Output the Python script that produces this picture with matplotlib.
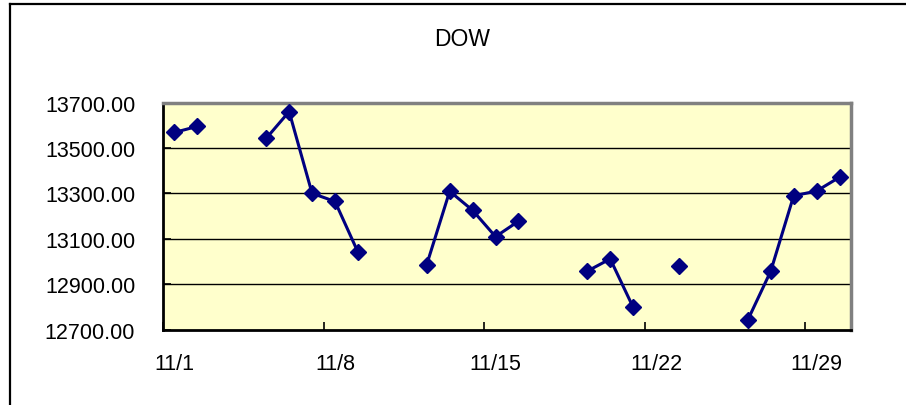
import numpy as np
import matplotlib
matplotlib.use("Agg")
import matplotlib.pyplot as plt
from matplotlib.lines import Line2D

plt.rcParams['font.family'] = ['Liberation Sans', 'DejaVu Sans']

# DOW closing values, November (NaN = no trading day)
days = np.arange(1, 31)
dow = [13568, 13595, np.nan, np.nan, 13542, 13660, 13300, 13264, 13041, np.nan,
       np.nan, 12986, 13309, 13225, 13109, 13177, np.nan, np.nan, 12957, 13011,
       12798, np.nan, 12981, np.nan, np.nan, 12742, 12957, 13289, 13310, 13371]
tick_days = [1, 8, 15, 22, 29]
tick_labels = ['11/1', '11/8', '11/15', '11/22', '11/29']
y_ticks = [12700, 12900, 13100, 13300, 13500, 13700]

fig = plt.figure(figsize=(9.06, 4.06), dpi=100)
ax = fig.add_axes([163 / 906, 1 - 330.5 / 406, 688 / 906, 227 / 406])
ax.set_facecolor('#FFFFCC')

# chart area frame (only top and left edges are visible)
fig.add_artist(Line2D([10 / 906, 10 / 906], [0, 1 - 4.5 / 406], transform=fig.transFigure,
                      color='black', lw=1.6))
fig.add_artist(Line2D([10 / 906, 1], [1 - 4.5 / 406, 1 - 4.5 / 406], transform=fig.transFigure,
                      color='black', lw=1.6))

for y in y_ticks[1:-1]:
    ax.axhline(y, color='black', lw=1, zorder=1)

ax.plot(days, dow, color='#000080', lw=2.2, marker='D', markersize=8.5,
        markeredgecolor='#000080', markerfacecolor='#000080', zorder=3, clip_on=False)

ax.set_xlim(0.5, 30.5)
ax.set_ylim(12700, 13700)
ax.set_yticks(y_ticks)
ax.set_yticklabels([f'{v:.2f}' for v in y_ticks])

# tick marks at day boundaries, labels at day centres
ax.set_xticks([d - 0.5 for d in tick_days])
ax.set_xticklabels([])
ax.set_xticks(tick_days, minor=True)
ax.set_xticklabels(tick_labels, minor=True)
ax.tick_params(axis='x', which='major', direction='in', length=6, width=1.2, color='black')
ax.tick_params(axis='x', which='minor', length=0, pad=17, labelsize=15.5)
ax.tick_params(axis='y', direction='in', length=6, width=1.2, pad=20, labelsize=15.5)

for side in ['top', 'right']:
    ax.spines[side].set_color('#808080')
    ax.spines[side].set_linewidth(2.5)
for side in ['left', 'bottom']:
    ax.spines[side].set_color('black')
    ax.spines[side].set_linewidth(2)

fig.text(462 / 906, 1 - 40 / 406, 'DOW', ha='center', va='center', fontsize=16.5)

fig.savefig('out.png', dpi=100)
